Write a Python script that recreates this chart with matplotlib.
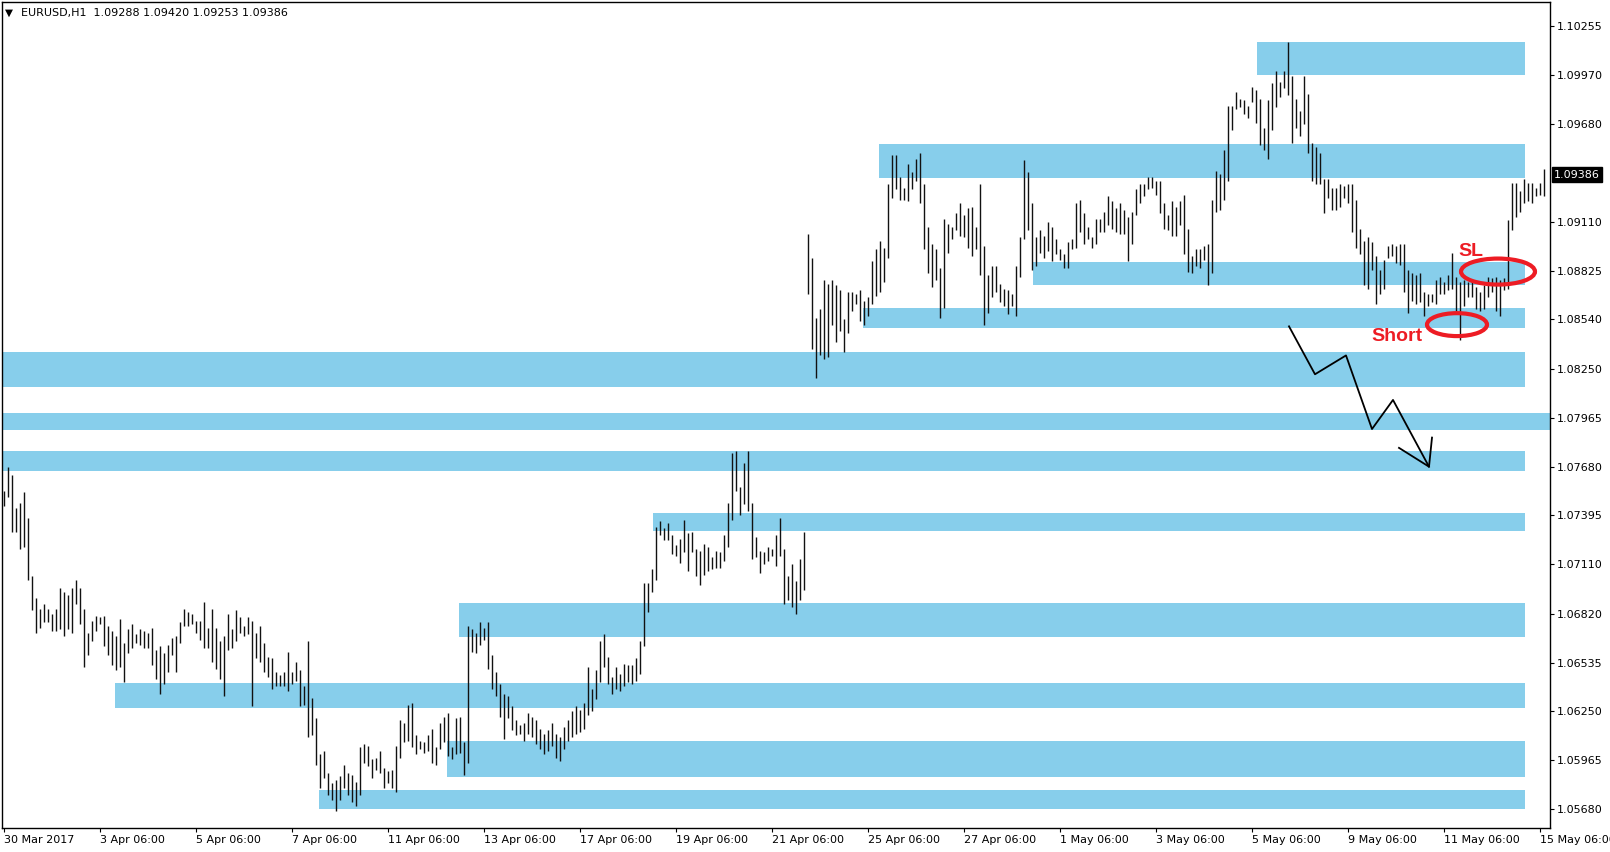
import numpy as np
import matplotlib.pyplot as plt
import matplotlib.transforms as mtransforms
from matplotlib.patches import Ellipse

plt.rcParams['font.family'] = 'DejaVu Sans'
plt.rcParams['font.size'] = 8

bar_high = [
    1.0754, 1.0768, 1.0763, 1.0744, 1.0747, 1.0753, 1.0738, 1.0704, 1.0691, 1.0685,
    1.0688, 1.0685, 1.0682, 1.0685, 1.0697, 1.0695, 1.0693, 1.0697, 1.0702, 1.0697,
    1.0685, 1.0671, 1.0678, 1.0681, 1.0680, 1.0681, 1.0675, 1.0672, 1.0669, 1.0679,
    1.0665, 1.0673, 1.0676, 1.0670, 1.0673, 1.0672, 1.0671, 1.0674, 1.0661, 1.0663,
    1.0659, 1.0664, 1.0668, 1.0669, 1.0677, 1.0685, 1.0683, 1.0682, 1.0678, 1.0678,
    1.0689, 1.0674, 1.0685, 1.0674, 1.0666, 1.0669, 1.0682, 1.0673, 1.0684, 1.0680,
    1.0675, 1.0680, 1.0678, 1.0671, 1.0675, 1.0665, 1.0657,
    1.0656, 1.0648, 1.0646, 1.0648, 1.0660, 1.0648, 1.0654, 1.0649, 1.0640, 1.0666,
    1.0633, 1.0621, 1.0600, 1.0602, 1.0589, 1.0583, 1.0585, 1.0587, 1.0594, 1.0589,
    1.0588, 1.0584, 1.0604, 1.0606, 1.0605, 1.0597, 1.0598, 1.0602, 1.0592, 1.0590,
    1.0591, 1.0605, 1.0620, 1.0618, 1.0629, 1.0630, 1.0611, 1.0608, 1.0607, 1.0611,
    1.0615, 1.0604, 1.0618, 1.0622, 1.0624, 1.0604, 1.0621, 1.0622, 1.0607, 1.0675,
    1.0673, 1.0671, 1.0677, 1.0674, 1.0677, 1.0658, 1.0648, 1.0641, 1.0635, 1.0634,
    1.0628, 1.0620, 1.0617, 1.0618, 1.0624,
    1.0622, 1.0620, 1.0615, 1.0612, 1.0614, 1.0618, 1.0612, 1.0610, 1.0616, 1.0620,
    1.0625, 1.0628, 1.0626, 1.0630,
    1.0651, 1.0638, 1.0649, 1.0666, 1.0670, 1.0657, 1.0645, 1.0651, 1.0647, 1.0653,
    1.0652, 1.0652, 1.0656, 1.0666, 1.0700, 1.0700, 1.0708, 1.0733, 1.0736, 1.0732,
    1.0735, 1.0728, 1.0722, 1.0726, 1.0737, 1.0729, 1.0730, 1.0720, 1.0719, 1.0723,
    1.0721, 1.0715, 1.0719, 1.0718, 1.0728, 1.0747, 1.0776, 1.0777, 1.0756, 1.0770,
    1.0777, 1.0747, 1.0727, 1.0719, 1.0718, 1.0721, 1.0720, 1.0728, 1.0738, 1.0720,
    1.0704, 1.0711, 1.0701, 1.0714, 1.0730,
    1.0904, 1.0890, 1.0855, 1.0860, 1.0877, 1.0875, 1.0877, 1.0874, 1.0871, 1.0854,
    1.0870, 1.0870, 1.0869, 1.0871, 1.0865, 1.0867, 1.0888, 1.0895, 1.0900, 1.0896,
    1.0933, 1.0950, 1.0950, 1.0937, 1.0931, 1.0945, 1.0940, 1.0948, 1.0951, 1.0933,
    1.0908, 1.0898, 1.0895, 1.0884, 1.0913, 1.0910, 1.0908, 1.0916, 1.0922, 1.0915,
    1.0919, 1.0920, 1.0908, 1.0933, 1.0897, 1.0880, 1.0885, 1.0885, 1.0875, 1.0872,
    1.0871, 1.0869, 1.0885,
    1.0902, 1.0947, 1.0940, 1.0922, 1.0902, 1.0906, 1.0903, 1.0911, 1.0908, 1.0901,
    1.0895, 1.0892, 1.0899, 1.0901, 1.0922, 1.0924, 1.0916, 1.0908, 1.0902, 1.0913,
    1.0913, 1.0917, 1.0926, 1.0923, 1.0919, 1.0922, 1.0918, 1.0914, 1.0917, 1.0930,
    1.0933, 1.0933, 1.0937, 1.0937, 1.0935, 1.0935, 1.0922, 1.0915, 1.0923, 1.0920,
    1.0923, 1.0927, 1.0907, 1.0891, 1.0895, 1.0895, 1.0897, 1.0898, 1.0924, 1.0941,
    1.0939, 1.0953, 1.0979, 1.0979, 1.0987, 1.0983, 1.0982, 1.0979, 1.0990, 1.0988,
    1.0983, 1.0966, 1.0982, 1.0992, 1.0999, 1.0993, 1.0999, 1.1016, 1.0996, 1.0983,
    1.0976, 1.0996, 1.0986, 1.0957, 1.0955, 1.0951, 1.0936, 1.0936, 1.0931, 1.0931,
    1.0933, 1.0932, 1.0933, 1.0933, 1.0924, 1.0907, 1.0900, 1.0902, 1.0899, 1.0891,
    1.0883, 1.0889, 1.0897, 1.0898, 1.0897, 1.0898, 1.0898, 1.0883, 1.0881, 1.0880,
    1.0881, 1.0870, 1.0869, 1.0869, 1.0877, 1.0879, 1.0876, 1.0880, 1.0893, 1.0879,
    1.0876, 1.0877, 1.0876, 1.0877, 1.0873, 1.0870, 1.0874, 1.0879, 1.0878, 1.0879,
    1.0877, 1.0878, 1.0912,
    1.0934, 1.0934, 1.0929, 1.0936, 1.0934, 1.0934, 1.0931, 1.0934, 1.0942,
]
bar_low = [
    1.0745, 1.0750, 1.0730, 1.0730, 1.0720, 1.0721, 1.0702, 1.0684, 1.0671, 1.0674,
    1.0677, 1.0677, 1.0672, 1.0672, 1.0673, 1.0669, 1.0673, 1.0671, 1.0688, 1.0676,
    1.0651, 1.0658, 1.0666, 1.0672, 1.0676, 1.0663, 1.0658, 1.0652, 1.0649, 1.0651,
    1.0642, 1.0659, 1.0662, 1.0665, 1.0664, 1.0662, 1.0662, 1.0652, 1.0644, 1.0635,
    1.0641, 1.0648, 1.0658, 1.0648, 1.0665, 1.0675, 1.0675, 1.0676, 1.0671, 1.0667,
    1.0662, 1.0662, 1.0654, 1.0650, 1.0644, 1.0634, 1.0661, 1.0662, 1.0666, 1.0671,
    1.0669, 1.0670, 1.0628, 1.0656, 1.0654, 1.0648, 1.0645,
    1.0638, 1.0640, 1.0640, 1.0640, 1.0637, 1.0641, 1.0643, 1.0628, 1.0629, 1.0610,
    1.0611, 1.0594, 1.0580, 1.0586, 1.0576, 1.0573, 1.0567, 1.0573, 1.0580, 1.0576,
    1.0572, 1.0570, 1.0576, 1.0595, 1.0593, 1.0586, 1.0591, 1.0589, 1.0580, 1.0583,
    1.0580, 1.0578, 1.0598, 1.0607, 1.0608, 1.0604, 1.0600, 1.0603, 1.0601, 1.0602,
    1.0595, 1.0594, 1.0603, 1.0607, 1.0599, 1.0597, 1.0600, 1.0601, 1.0588, 1.0595,
    1.0660, 1.0659, 1.0664, 1.0667, 1.0650, 1.0638, 1.0634, 1.0622, 1.0609, 1.0621,
    1.0614, 1.0611, 1.0612, 1.0608, 1.0612,
    1.0610, 1.0606, 1.0603, 1.0600, 1.0602, 1.0605, 1.0598, 1.0596, 1.0603, 1.0608,
    1.0610, 1.0612, 1.0613, 1.0615,
    1.0623, 1.0625, 1.0632, 1.0642, 1.0651, 1.0641, 1.0635, 1.0638, 1.0637, 1.0640,
    1.0642, 1.0641, 1.0643, 1.0647, 1.0663, 1.0683, 1.0695, 1.0702, 1.0728, 1.0725,
    1.0725, 1.0717, 1.0716, 1.0712, 1.0718, 1.0707, 1.0718, 1.0704, 1.0699, 1.0705,
    1.0707, 1.0708, 1.0709, 1.0709, 1.0713, 1.0721, 1.0737, 1.0754, 1.0740, 1.0746,
    1.0742, 1.0714, 1.0715, 1.0706, 1.0711, 1.0713, 1.0716, 1.0710, 1.0716, 1.0688,
    1.0690, 1.0686, 1.0682, 1.0690, 1.0696,
    1.0869, 1.0837, 1.0820, 1.0833, 1.0831, 1.0832, 1.0851, 1.0841, 1.0847, 1.0835,
    1.0846, 1.0859, 1.0863, 1.0853, 1.0851, 1.0856, 1.0863, 1.0868, 1.0870, 1.0876,
    1.0890, 1.0925, 1.0930, 1.0924, 1.0924, 1.0923, 1.0930, 1.0935, 1.0922, 1.0895,
    1.0881, 1.0873, 1.0877, 1.0855, 1.0861, 1.0893, 1.0901, 1.0906, 1.0903, 1.0902,
    1.0896, 1.0891, 1.0895, 1.0880, 1.0851, 1.0858, 1.0867, 1.0870, 1.0864, 1.0862,
    1.0857, 1.0862, 1.0856,
    1.0879, 1.0901, 1.0906, 1.0883, 1.0885, 1.0893, 1.0890, 1.0894, 1.0888, 1.0892,
    1.0889, 1.0884, 1.0884, 1.0895, 1.0896, 1.0905, 1.0898, 1.0901, 1.0896, 1.0898,
    1.0905, 1.0905, 1.0909, 1.0907, 1.0905, 1.0904, 1.0904, 1.0888, 1.0898, 1.0915,
    1.0922, 1.0926, 1.0930, 1.0931, 1.0927, 1.0916, 1.0907, 1.0906, 1.0903, 1.0903,
    1.0909, 1.0892, 1.0882, 1.0881, 1.0885, 1.0884, 1.0889, 1.0874, 1.0881, 1.0917,
    1.0918, 1.0924, 1.0935, 1.0965, 1.0977, 1.0978, 1.0974, 1.0972, 1.0981, 1.0969,
    1.0956, 1.0953, 1.0948, 1.0965, 1.0978, 1.0984, 1.0989, 1.0985, 1.0957, 1.0966,
    1.0961, 1.0968, 1.0951, 1.0935, 1.0933, 1.0933, 1.0916, 1.0925, 1.0918, 1.0918,
    1.0920, 1.0925, 1.0922, 1.0905, 1.0896, 1.0892, 1.0874, 1.0872, 1.0883, 1.0863,
    1.0869, 1.0872, 1.0890, 1.0891, 1.0887, 1.0886, 1.0870, 1.0858, 1.0865, 1.0863,
    1.0864, 1.0856, 1.0862, 1.0864, 1.0863, 1.0869, 1.0869, 1.0871, 1.0872, 1.0859,
    1.0842, 1.0862, 1.0867, 1.0867, 1.0860, 1.0859, 1.0860, 1.0867, 1.0870, 1.0859,
    1.0856, 1.0871, 1.0872,
    1.0906, 1.0914, 1.0917, 1.0922, 1.0923, 1.0922, 1.0926, 1.0927, 1.0926,
]

# supply / demand zones: price top, price bottom, first and last hour bar
zone_top = [1.10162, 1.09566, 1.08876, 1.08607, 1.08350, 1.07994,
            1.07772, 1.07410, 1.06884, 1.06416, 1.06077, 1.05791]
zone_bottom = [1.09969, 1.09367, 1.08742, 1.08490, 1.08146, 1.07894,
               1.07655, 1.07304, 1.06685, 1.06270, 1.05867, 1.05680]
zone_start = [626.5, 437.5, 514.5, 429.5, -1, -1, -1, 324.5, 227.5, 55.5, 221.5, 157.5]
zone_end = [760.5, 760.5, 760.5, 760.5, 760.5, 773, 760.5, 760.5, 760.5, 760.5, 760.5, 760.5]

price_ticks = [1.10255, 1.09970, 1.09680, 1.09110, 1.08825, 1.08540, 1.08250, 1.07965,
               1.07680, 1.07395, 1.07110, 1.06820, 1.06535, 1.06250, 1.05965, 1.05680]
time_labels = ['30 Mar 2017', '3 Apr 06:00', '5 Apr 06:00', '7 Apr 06:00', '11 Apr 06:00',
               '13 Apr 06:00', '17 Apr 06:00', '19 Apr 06:00', '21 Apr 06:00', '25 Apr 06:00',
               '27 Apr 06:00', '1 May 06:00', '3 May 06:00', '5 May 06:00', '9 May 06:00',
               '11 May 06:00', '15 May 06:00']
last_price = 1.09386

# projected move drawn on the chart (hour bar, price)
path_x = [642.5, 655.5, 671, 684, 694.5, 712.5]
path_y = [1.0850, 1.0822, 1.0833, 1.0790, 1.0807, 1.0768]
head_x = [697.5, 712.5, 714]
head_y = [1.0779, 1.0768, 1.0785]

red = '#ED1C24'
zone_color = '#87CEEB'

fig = plt.figure(figsize=(16.1, 8.52), dpi=100)
ax = fig.add_axes([2 / 1610, 24 / 852, 1548 / 1610, 826 / 852])

for top, bottom, start, end in zip(zone_top, zone_bottom, zone_start, zone_end):
    ax.fill_between([start, end], bottom, top, color=zone_color, lw=0, zorder=1)

bar_x = np.arange(len(bar_high)) * 2
ax.vlines(bar_x, bar_low, bar_high, color='#111111', lw=1.0, zorder=3)

ax.plot(path_x, path_y, color='black', lw=1.3, zorder=4)
ax.plot(head_x, head_y, color='black', lw=1.3, zorder=4)

ax.add_patch(Ellipse((747, 1.0882), 37, 0.00152, fill=False, ec=red, lw=3, zorder=5))
ax.add_patch(Ellipse((726.5, 1.0851), 30, 0.00134, fill=False, ec=red, lw=3, zorder=5))
ax.text(727, 1.0894, 'SL', color=red, fontsize=14, fontweight='bold',
        family='Liberation Sans', va='center', ha='left', zorder=5)
ax.text(683.5, 1.0844, 'Short', color=red, fontsize=14, fontweight='bold',
        family='Liberation Sans', va='center', ha='left', zorder=5)

ax.set_xlim(-1, 773)
ax.set_ylim(1.05569, 1.10395)

ax.set_xticks(np.arange(len(time_labels)) * 48)
ax.set_xticklabels(time_labels, ha='left')
ax.yaxis.tick_right()
ax.set_yticks(price_ticks)
ax.set_yticklabels([f'{p:.5f}' for p in price_ticks])
ax.tick_params(axis='both', direction='out', length=3, width=0.8, pad=2, colors='black')
for s in ax.spines.values():
    s.set_color('black')
    s.set_linewidth(1)

trans = mtransforms.blended_transform_factory(ax.transAxes, ax.transData)
ax.text(1.0025, last_price, '1.09386', transform=trans, color='white', va='center',
        ha='left', bbox=dict(boxstyle='square,pad=0.2', fc='black', ec='black'))

fig.text(5 / 1610, 1 - 13 / 852, '\u25bc', fontsize=7.5, va='center', ha='left')
fig.text(21 / 1610, 1 - 13 / 852, 'EURUSD,H1  1.09288 1.09420 1.09253 1.09386',
         fontsize=8, va='center', ha='left')

fig.savefig('out.png', dpi=100)
